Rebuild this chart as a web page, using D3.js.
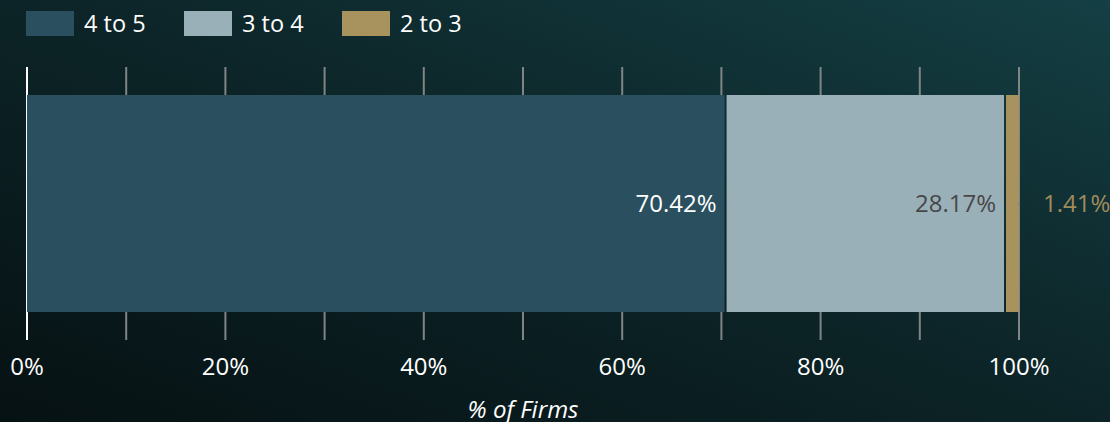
<!DOCTYPE html>
<html><head><meta charset="utf-8">
<script src="https://cdn.jsdelivr.net/npm/d3@7"></script>
<style>
html,body{margin:0;padding:0;background:#0a1d20;}
svg{display:block;font-family:"Open Sans","Noto Sans",sans-serif;}
</style></head>
<body><svg id="chart" width="1110" height="422"></svg>
<script>
const categories = ["Firms"];
const seriesNames = ["4 to 5", "3 to 4", "2 to 3"];
const seriesValues = [70.42, 28.17, 1.41];
const seriesColors = ["#2a5060", "#9ab0b9", "#a8925e"];
const labelColors = ["#ffffff", "#474747", "#a08c5a"];
const tickValues = [0, 10, 20, 30, 40, 50, 60, 70, 80, 90, 100];
const tickLabels = ["0%", "20%", "40%", "60%", "80%", "100%"];
const axisTitle = "% of Firms";

const W = 1110, H = 422;
const FS = 24;
const svg = d3.select("#chart");
const defs = svg.append("defs");
const grad = defs.append("linearGradient").attr("id","bg")
  .attr("x1","0").attr("y1","1").attr("x2","1").attr("y2","0");
grad.append("stop").attr("offset","0%").attr("stop-color","#061113");
grad.append("stop").attr("offset","55%").attr("stop-color","#0d2629");
grad.append("stop").attr("offset","100%").attr("stop-color","#143f44");
svg.append("rect").attr("width",W).attr("height",H).attr("fill","url(#bg)");

const x = d3.scaleLinear().domain([0,100]).range([27,1019]);
const y = d3.scaleBand().domain(categories).range([95,312]).padding(0);

// gridlines
svg.append("g").selectAll("line").data(tickValues).join("line")
  .attr("x1", d=>x(d)).attr("x2", d=>x(d))
  .attr("y1", 67).attr("y2", 340)
  .attr("stroke", d=> d===0 ? "#ffffff" : "#7f8585")
  .attr("stroke-width", 2);

// stacked data
let acc = 0;
const segs = seriesValues.map((v,i)=>{ const s={name:seriesNames[i],v,x0:acc,x1:acc+v,i}; acc+=v; return s; });

const cat = categories[0];
svg.append("g").selectAll("rect").data(segs).join("rect")
  .attr("x", d=>x(d.x0)+(d.i>0?1:0))
  .attr("width", d=>x(d.x1)-x(d.x0)-(d.i>0?1:0)-(d.i<segs.length-1?1:0))
  .attr("y", y(cat)).attr("height", y.bandwidth())
  .attr("fill", d=>seriesColors[d.i]);

// small leader for outside label
svg.append("line").attr("x1", x(100)-1).attr("x2", x(100)+1)
  .attr("y1", y(cat)+y.bandwidth()/2).attr("y2", y(cat)+y.bandwidth()/2)
  .attr("stroke","#7f8585").attr("stroke-width",2);

// value labels
svg.append("g").selectAll("text").data(segs).join("text")
  .attr("x", d=> d.i===2 ? x(d.x1)+24 : x(d.x1)-9)
  .attr("y", y(cat)+y.bandwidth()/2)
  .attr("dy","0.36em")
  .attr("text-anchor", d=> d.i===2 ? "start" : "end")
  .attr("font-size", FS)
  .attr("fill", d=>labelColors[d.i])
  .text(d=>d.v.toFixed(2)+"%");

// axis labels
const tickLabVals = [0,20,40,60,80,100];
svg.append("g").selectAll("text").data(tickLabVals).join("text")
  .attr("x", d=>x(d)).attr("y", 366).attr("dy","0.36em")
  .attr("text-anchor","middle").attr("font-size",FS).attr("fill","#ffffff")
  .text((d,i)=>tickLabels[i]);

svg.append("text").attr("x", x(50)).attr("y", 409).attr("dy","0.36em")
  .attr("text-anchor","middle").attr("font-size",FS).attr("font-style","italic")
  .attr("fill","#ffffff").text(axisTitle);

// legend
const leg = svg.append("g").selectAll("g").data(seriesNames).join("g")
  .attr("transform",(d,i)=>`translate(${26+i*158},11)`);
leg.append("rect").attr("width",48).attr("height",25).attr("fill",(d,i)=>seriesColors[i]);
leg.append("text").attr("x",58).attr("y",12.5).attr("dy","0.36em")
  .attr("font-size",23.5).attr("fill","#ffffff").text(d=>d);
</script></body></html>
